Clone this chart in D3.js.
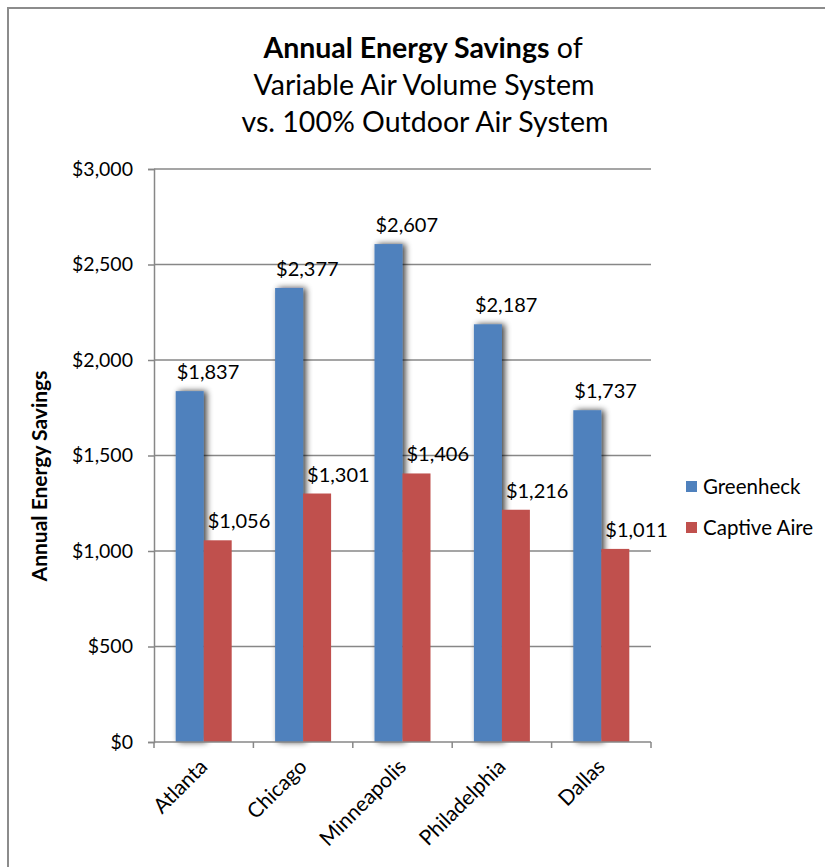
<!DOCTYPE html>
<html>
<head>
<meta charset="utf-8">
<script src="https://cdnjs.cloudflare.com/ajax/libs/d3/7.8.5/d3.min.js"></script>
<style>
	body { margin: 0; background: #fff; }
	text { font-family: Lato, "Open Sans", sans-serif; fill: #000; }
</style>
</head>
<body>
<div id="chart"></div>
<script>
(function(){
	var width = 825,
		height = 867;

	// data
	var cities = ["Atlanta", "Chicago", "Minneapolis", "Philadelphia", "Dallas"];
	var seriesNames = ["Greenheck", "Captive Aire"];
	var greenheck = [1837, 2377, 2607, 2187, 1737];
	var captiveAire = [1056, 1301, 1406, 1216, 1011];
	var yTicks = [0, 500, 1000, 1500, 2000, 2500, 3000];
	var colors = ["#4f81bd", "#c0504d"];

	var left = 154, right = 651, top = 169, bottom = 742;

	var svg = d3.select("#chart")
		.append("svg")
		.attr("width", width)
		.attr("height", height)

	// drop shadow for the blue bars
	var defs = svg.append("defs")
	var filter = defs.append("filter")
		.attr("id", "shadow")
		.attr("x", "-50%").attr("y", "-10%")
		.attr("width", "200%").attr("height", "120%")
	filter.append("feGaussianBlur").attr("in", "SourceAlpha").attr("stdDeviation", 3)
	filter.append("feOffset").attr("dx", 3).attr("dy", 0).attr("result", "off")
	filter.append("feComponentTransfer").append("feFuncA").attr("type", "linear").attr("slope", 0.75)
	var merge = filter.append("feMerge")
	merge.append("feMergeNode")
	merge.append("feMergeNode").attr("in", "SourceGraphic")

	// outer frame
	svg.append("rect")
		.attr("x", 8).attr("y", 8)
		.attr("width", 840).attr("height", 880)
		.attr("fill", "none")
		.attr("stroke", "#8c8c8c")
		.attr("stroke-width", 2)

	var x = d3.scaleBand().domain(cities).range([left, right]).padding(0)
	var xInner = d3.scaleBand().domain(seriesNames).range([0, x.bandwidth()])
		.paddingInner(0).paddingOuter(0.775)
	var y = d3.scaleLinear().domain([0, 3000]).range([bottom, top])

	// gridlines
	svg.append("g")
		.selectAll("line")
		.data(yTicks.slice(1))
		.enter().append("line")
		.attr("x1", left).attr("x2", right)
		.attr("y1", function(d){ return y(d) }).attr("y2", function(d){ return y(d) })
		.attr("stroke", "#878787")
		.attr("stroke-width", 1.5)

	// y axis
	var yAxis = svg.append("g")
		.attr("transform", "translate(" + left + ",0)")
		.call(d3.axisLeft(y).tickValues(yTicks).tickSize(6).tickPadding(15)
			.tickFormat(function(d){ return "$" + d3.format(",")(d) }))
	yAxis.select(".domain").attr("stroke", "#878787").attr("stroke-width", 1.5)
	yAxis.selectAll(".tick line").attr("stroke", "#878787").attr("stroke-width", 1.5)
	yAxis.selectAll(".tick text")
		.attr("font-size", "19.5px")
		.attr("font-family", "Lato, sans-serif")
		.attr("fill", "#000")

	// bars
	var rows = cities.map(function(c, i){
		return { city: c, values: [greenheck[i], captiveAire[i]] }
	})

	var groups = svg.selectAll(".group")
		.data(rows)
		.enter().append("g")
		.attr("class", "group")
		.attr("transform", function(d){ return "translate(" + x(d.city) + ",0)" })

	groups.selectAll("rect")
		.data(function(d){
			return d.values.map(function(v, j){ return { name: seriesNames[j], value: v, j: j } })
		})
		.enter().append("rect")
		.attr("x", function(d){ return xInner(d.name) })
		.attr("y", function(d){ return y(d.value) })
		.attr("width", xInner.bandwidth())
		.attr("height", function(d){ return bottom - y(d.value) })
		.attr("fill", function(d){ return colors[d.j] })
		.attr("filter", function(d){ return d.j === 0 ? "url(#shadow)" : null })

	// bring red bars above blue shadows
	groups.selectAll("rect").filter(function(d){ return d.j === 1 }).raise()

	groups.selectAll(".label")
		.data(function(d){
			return d.values.map(function(v, j){ return { name: seriesNames[j], value: v, j: j } })
		})
		.enter().append("text")
		.attr("class", "label")
		.attr("x", function(d){ return xInner(d.name) + (d.j === 0 ? 1 : 4) })
		.attr("y", function(d){ return y(d.value) - 12 })
		.attr("font-size", "20px")
		.text(function(d){ return "$" + d3.format(",")(d.value) })

	// x axis
	var xAxis = svg.append("g")
		.attr("transform", "translate(0," + bottom + ")")
	xAxis.append("line")
		.attr("x1", left).attr("x2", right)
		.attr("stroke", "#878787").attr("stroke-width", 1.5)
	xAxis.selectAll(".xtick")
		.data(cities.concat(["end"]))
		.enter().append("line")
		.attr("class", "xtick")
		.attr("x1", function(d){ return d === "end" ? right : x(d) })
		.attr("x2", function(d){ return d === "end" ? right : x(d) })
		.attr("y1", 0).attr("y2", 6)
		.attr("stroke", "#878787").attr("stroke-width", 1.5)
	xAxis.selectAll(".xlabel")
		.data(cities)
		.enter().append("text")
		.attr("class", "xlabel")
		.attr("text-anchor", "end")
		.attr("font-size", "21px")
		.attr("transform", function(d){
			return "translate(" + (x(d) + x.bandwidth() / 2 + 5) + ",26) rotate(-45)"
		})
		.text(function(d){ return d })

	// title
	var title = svg.append("text")
		.attr("text-anchor", "middle")
		.attr("font-size", "28.5px")
	title.append("tspan").attr("x", 423).attr("y", 58)
		.attr("font-weight", "bold").text("Annual Energy Savings")
	title.append("tspan").text(" of")
	title.append("tspan").attr("x", 424).attr("y", 95).text("Variable Air Volume System")
	title.append("tspan").attr("x", 425).attr("y", 132).text("vs. 100% Outdoor Air System")

	// y axis title
	svg.append("text")
		.attr("transform", "translate(47,476) rotate(-90)")
		.attr("text-anchor", "middle")
		.attr("font-size", "21px")
		.attr("font-weight", "bold")
		.text("Annual Energy Savings")

	// legend
	var legend = svg.selectAll(".legend")
		.data(seriesNames)
		.enter().append("g")
		.attr("class", "legend")
		.attr("transform", function(d, i){ return "translate(686," + (481 + i * 41) + ")" })
	legend.append("rect")
		.attr("width", 11).attr("height", 11)
		.attr("fill", function(d, i){ return colors[i] })
	legend.append("text")
		.attr("x", 17).attr("y", 13)
		.attr("font-size", "20.5px")
		.text(function(d){ return d })
})();
</script>
</body>
</html>
